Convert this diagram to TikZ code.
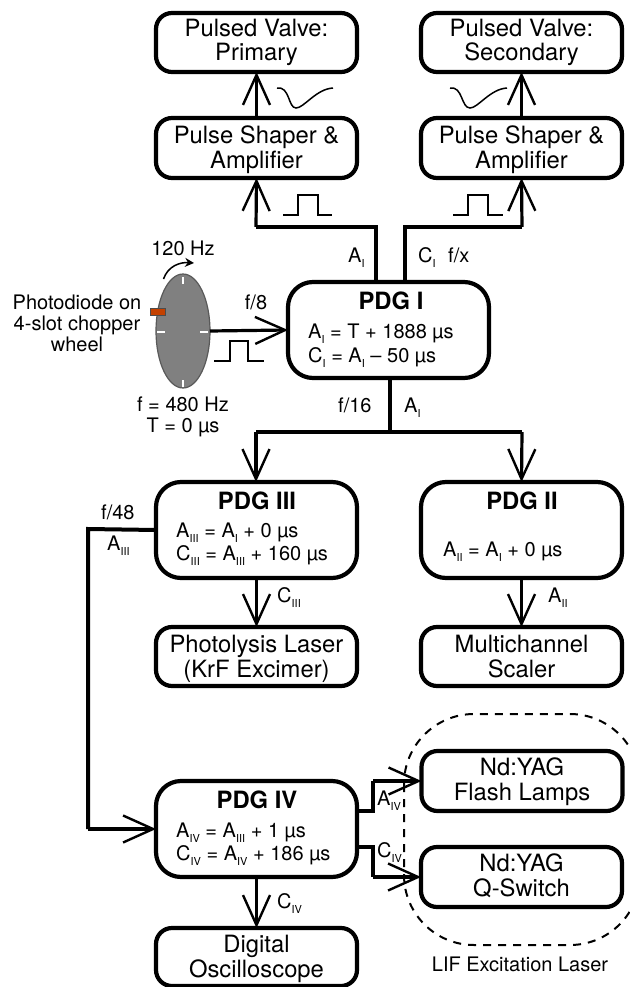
\documentclass[tikz,border=0pt]{standalone}
\usepackage{fontspec}
\setmainfont{TeX Gyre Heros}
\usetikzlibrary{arrows.meta,shapes.geometric}
\newcommand{\rsub}[1]{\raisebox{-5pt}{\fontsize{11}{11}\selectfont #1}}
\newcommand{\fmicro}{\textmu s}
\definecolor{pdcol}{RGB}{196,65,0}
\tikzset{
  small/.style={font=\fontsize{20}{21}\selectfont,inner sep=0pt},
  lab/.style={small,anchor=base west},
  labc/.style={small,anchor=base,align=center},
  ttl/.style={font=\fontsize{23.8}{24}\selectfont\bfseries,inner sep=0pt,anchor=base},
  boxt/.style={font=\fontsize{23.8}{24.5}\selectfont,inner sep=0pt,anchor=base,align=center},
  box/.style={draw=black,line width=4.2pt,rounded corners=16pt,inner sep=0pt,outer sep=0pt,
    minimum width=201pt,minimum height=60pt,fill=white},
  pdg/.style={draw=black,line width=4.2pt,rounded corners=25pt,inner sep=0pt,outer sep=0pt,
    minimum width=201pt,minimum height=96pt,fill=white},
  heavy/.style={line width=4pt,line join=miter},
  arr/.style={line width=3.2pt,-{Straight Barb[length=30pt,width=27pt,line width=2.4pt]}},
  pulse/.style={line width=1.5pt,line join=miter},
}
\begin{document}
\begin{tikzpicture}[x=1pt,y=-1pt]
\useasboundingbox (0,0) rectangle (629,987);
% dashed region
\draw[line width=2pt,dash pattern=on 8pt off 7pt,rounded corners=70pt] (404,714) rectangle (640,945);
% boxes
\node[box,minimum height=59pt] (pvp) at (256.5,42.5) {};
\node[box,minimum height=59pt] (pvs) at (521.5,42.5) {};
\node[box] (psl) at (256.5,148) {};
\node[box] (psr) at (521.5,148) {};
\node[pdg] (p1) at (388.5,330) {};
\node[pdg] (p3) at (256.5,530) {};
\node[pdg] (p2) at (521.5,530) {};
\node[box,minimum height=59pt] (phl) at (256.5,656.5) {};
\node[box,minimum height=59pt] (mcs) at (521.5,656.5) {};
\node[pdg] (p4) at (256.5,829) {};
\node[box,minimum height=58pt] (osc) at (256.5,957) {};
\node[box] (fl) at (522,781) {};
\node[box] (qs) at (521.5,877) {};
% box texts
\node[boxt] (pvpt) at (256.5,61) {Pulsed Valve:\\Primary};
\node[boxt] (pvst) at (521.5,61) {Pulsed Valve:\\Secondary};
\node[boxt] (pslt) at (256.5,168) {Pulse Shaper \&\\Amplifier};
\node[boxt] (psrt) at (521.5,168) {Pulse Shaper \&\\Amplifier};
\node[boxt] (phlt) at (256.5,677) {Photolysis Laser\\(KrF Excimer)};
\node[boxt] (mcst) at (521.5,677) {Multichannel\\Scaler};
\node[boxt] (osct) at (256.5,977) {Digital\\Oscilloscope};
\node[boxt] (flt) at (522,800) {Nd:YAG\\Flash Lamps};
\node[boxt] (qst) at (521.5,896) {Nd:YAG\\Q-Switch};
% chopper wheel
\node[draw=black!65,fill=black!50,line width=1.2pt,ellipse,minimum width=54pt,minimum height=114pt,inner sep=0pt,outer sep=0pt] (wheel) at (183,331) {};
\draw[white,line width=2.5pt] (183,277) -- (183,284) (183,380) -- (183,387) (157,332) -- (165,332) (200,332) -- (208,332);
\node[draw=black!70,fill=pdcol,line width=1pt,minimum width=15pt,minimum height=7pt,inner sep=0pt,outer sep=0pt] (pd) at (158,311.5) {};
\coordinate (cs) at (163.5,279);
\coordinate (ce) at (194,263);
\draw[line width=1.5pt,-{Stealth[length=9pt,width=9pt,inset=3pt]}] (cs) .. controls (168,266) and (180,262) .. (ce);
% connectors
\draw[arr] (psl.north) -- (pvp.south);
\draw[arr] (psr.north) -- (pvs.south);
\coordinate (cl) at (256,227);
\coordinate (cr) at (522,227);
\draw[heavy] (376,0 |- p1.north) -- (376,227) -- (cl);
\draw[arr] (cl) -- (psl.south);
\draw[heavy] (405,0 |- p1.north) -- (405,227) -- (cr);
\draw[arr] (cr) -- (psr.south);
\draw[arr] (wheel.east) -- (p1.west);
\coordinate (j0) at (390,432);
\draw[heavy] (390,0 |- p1.south) -- (j0);
\coordinate (jl) at (256,432);
\coordinate (jr) at (522,432);
\draw[heavy] (jl) -- (jr);
\draw[arr] (jl) -- (256,0 |- p3.north);
\draw[arr] (jr) -- (p2.north);
\coordinate (c48) at (88,529);
\coordinate (d48) at (88,829);
\draw[heavy,line cap=butt] (p3.west) -- (c48) -- (d48);
\draw[arr] (d48) -- (p4.west);
\draw[arr] (p3.south) -- (phl.north);
\draw[arr] (p2.south) -- (mcs.north);
\draw[arr] (p4.south) -- (osc.north);
\coordinate (a1) at (373,811);
\coordinate (a2) at (373,781);
\coordinate (c1) at (373,847);
\coordinate (c2) at (373,877);
\draw[heavy] (357,811) -- (a1) -- (a2);
\draw[arr] (a2) -- (fl.west);
\draw[heavy] (357,847) -- (c1) -- (c2);
\draw[arr] (c2) -- (qs.west);
% pulses
\draw[pulse] (214,361) -- (230,361) -- (230,341) -- (248,341) -- (248,361) -- (264,361);
\draw[pulse] (283,215) -- (298,215) -- (298,195) -- (318,195) -- (318,215) -- (332,215);
\draw[pulse] (453,215) -- (468,215) -- (468,195) -- (488,195) -- (488,215) -- (503,215);
\draw[line width=1.5pt] (277,88) .. controls (290,86) and (288,108) .. (296,108) .. controls (304,108) and (316,89) .. (333,88);
\draw[line width=1.5pt] (450,88) .. controls (463,86) and (461,108) .. (470,108) .. controls (478,108) and (490,89) .. (507,88);
% texts
\node[labc] (t120) at (183,255) {120 Hz};
\node[labc] (tpd) at (77,351) {Photodiode on\\4-slot chopper\\wheel};
\node[labc] (tf) at (183,432) {f = 480 Hz\\T = 0 \fmicro};
\node[labc] (tf8) at (256,309) {f/8};
\node[lab] (tai) at (348,262) {A\rsub{I}};
\node[lab] (tci) at (418,262) {C\rsub{I}};
\node[lab] (tfx) at (448,262) {f/x};
\node[ttl] (t1) at (391,309) {PDG I};
\node[lab] (t1a) at (308,338) {A\rsub{I} = T + 1888 \fmicro};
\node[lab] (t1c) at (308,362) {C\rsub{I} = A\rsub{I} – 50 \fmicro};
\node[lab] (tf16) at (338,412) {f/16};
\node[lab] (tai2) at (404,412) {A\rsub{I}};
\node[ttl] (t3) at (257,509) {PDG III};
\node[lab] (t3a) at (176,537) {A\rsub{III} = A\rsub{I} + 0 \fmicro};
\node[lab] (t3c) at (176,560) {C\rsub{III} = A\rsub{III} + 160 \fmicro};
\node[lab] (tf48) at (101,519) {f/48};
\node[lab] (ta3) at (107,550) {A\rsub{III}};
\node[lab] (tc3) at (277,602) {C\rsub{III}};
\node[ttl] (t2) at (522,509) {PDG II};
\node[lab] (t2a) at (443,556) {A\rsub{II} = A\rsub{I} + 0 \fmicro};
\node[lab] (ta2) at (548,602) {A\rsub{II}};
\node[ttl] (t4) at (257,808) {PDG IV};
\node[lab] (t4a) at (176,837) {A\rsub{IV} = A\rsub{III} + 1 \fmicro};
\node[lab] (t4c) at (176,860) {C\rsub{IV} = A\rsub{IV} + 186 \fmicro};
\node[lab] (tc4) at (277,908) {C\rsub{IV}};
\node[lab] (ta4r) at (377,805) {A\rsub{IV}};
\node[lab] (tc4r) at (377,857) {C\rsub{IV}};
\node[labc] (tlif) at (520,971) {LIF Excitation Laser};
\end{tikzpicture}
\end{document}
